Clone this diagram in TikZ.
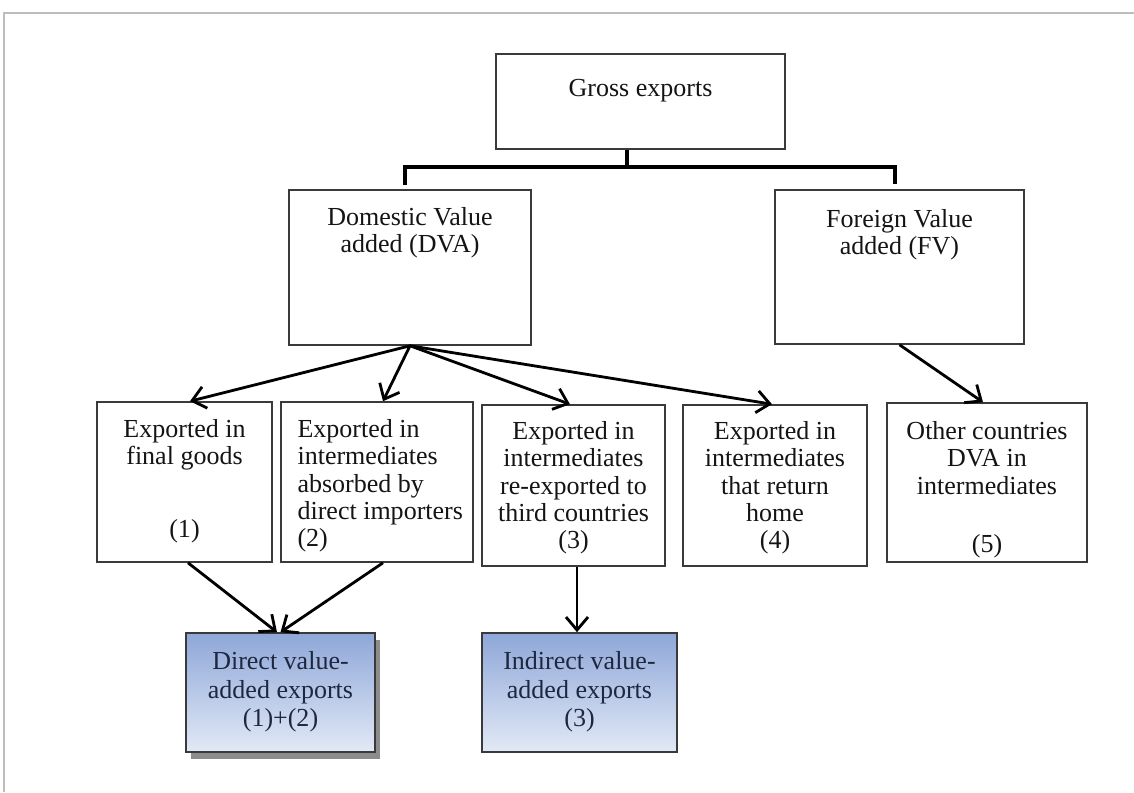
\documentclass[tikz,border=0pt]{standalone}
\usepackage{fontspec}
\setmainfont{Liberation Serif}
\usetikzlibrary{
  arrows.meta,
  positioning,  % below=... of
  shadows,      % drop shadow
}
\definecolor{boxline}{HTML}{3A3A3A}
\definecolor{frameline}{HTML}{BDBDBD}
\definecolor{navy}{HTML}{1F2740}
\definecolor{bluetop}{RGB}{142,167,216}
\definecolor{bluebot}{RGB}{226,233,246}
\tikzset{
  semithick,
  box/.style={
    draw=boxline,
    line width=0.9pt,
    inner sep=0pt
  },
  txt/.style={
    inner sep=0pt,
    align=center,
    text=black!92
  },
  blue box/.style={
    box,
    top color=bluetop,
    bottom color=bluebot
  },
  blue txt/.style={
    txt,
    text=navy,
    font=\fontsize{14.8}{16.2}\selectfont
  },
  bus/.style={
    line width=2.4pt
  },
  arr/.style={
    -{Straight Barb[length=2.6mm,width=4.4mm]},
    line width=1.6pt
  }
}

\begin{document}
\begin{tikzpicture}[font=\fontsize{14.8}{15.5}\selectfont]
\useasboundingbox (0,0) rectangle (22.68,-15.84);
% frame
\draw[frameline, line width=1.1pt] (0.08,-15.84) -- (0.08,-0.26) -- (22.68,-0.26);

% boxes
\node[box, minimum width=5.78cm, minimum height=1.9cm]  (gross) at (12.81,-2.03) {};
\node[box, minimum width=4.84cm, minimum height=3.1cm]  (dva)   at (8.2,-5.35)   {};
\node[box, minimum width=4.98cm, minimum height=3.08cm] (fv)    at (17.99,-5.34) {};
\node[box, minimum width=3.5cm,  minimum height=3.2cm]  (ex1)   at (3.69,-9.64)  {};
\node[box, minimum width=3.84cm, minimum height=3.2cm]  (ex2)   at (7.54,-9.64)  {};
\node[box, minimum width=3.66cm, minimum height=3.22cm] (ex3)   at (11.47,-9.71) {};
\node[box, minimum width=3.68cm, minimum height=3.22cm] (ex4)   at (15.5,-9.71)  {};
\node[box, minimum width=4.0cm,  minimum height=3.18cm] (ex5)   at (19.74,-9.65) {};
\node[blue box, minimum width=3.78cm, minimum height=2.38cm,
      drop shadow={shadow xshift=0.1cm, shadow yshift=-0.13cm, fill=black!45, opacity=1}]
      (direct) at (5.61,-13.85) {};
\node[blue box, minimum width=3.9cm, minimum height=2.38cm] (indirect) at (11.59,-13.85) {};

% texts
\node[txt, below=0.52cm of gross.north] (gross-t) {Gross exports};
\node[txt, below=0.36cm of dva.north]   (dva-t)   {Domestic Value\\added (DVA)};
\node[txt, below=0.4cm of fv.north]     (fv-t)    {Foreign Value\\added (FV)};
\node[txt, below=0.36cm of ex1.north]   (ex1-t)   {Exported in\\final goods\\[0.91cm](1)};
\node[txt, align=left, anchor=north west] (ex2-t)
  at ([xshift=0.34cm,yshift=-0.36cm]ex2.north west)
  {Exported in\\intermediates\\absorbed by\\direct importers\\(2)};
\node[txt, below=0.34cm of ex3.north]   (ex3-t)   {Exported in\\intermediates\\re-exported to\\third countries\\(3)};
\node[txt, below=0.34cm of ex4.north]   (ex4-t)   {Exported in\\intermediates\\that return\\home\\(4)};
\node[txt, below=0.38cm of ex5.north]   (ex5-t)   {Other countries\\DVA in\\intermediates\\[0.63cm](5)};
\node[blue txt, below=0.38cm of direct.north]   (direct-t)   {Direct value-\\added exports\\(1)+(2)};
\node[blue txt, below=0.38cm of indirect.north] (indirect-t) {Indirect value-\\added exports\\(3)};

% tree
\draw[bus] ([xshift=-0.27cm]gross.south) -- ++(0,-0.34);
\draw[bus] ([xshift=-0.1cm,yshift=0.08cm]dva.north) |- ([yshift=-0.34cm]gross.south)
  -| ([xshift=-0.09cm,yshift=0.1cm]fv.north);

% arrows
\draw[arr] (dva.south) -- ([xshift=0.11cm]ex1.north);
\draw[arr] (dva.south) -- ([xshift=0.12cm]ex2.north);
\draw[arr] (dva.south) -- ([xshift=-0.07cm]ex3.north);
\draw[arr] (dva.south) -- ([xshift=-0.06cm]ex4.north);
\draw[arr] (fv.south) -- ([xshift=-0.08cm]ex5.north);
\draw[arr] ([xshift=0.07cm]ex1.south) -- ([xshift=-0.07cm]direct.north);
\draw[arr] ([xshift=0.12cm]ex2.south) -- (direct.north);
\draw[arr] ([xshift=0.07cm]ex3.south) -- ([xshift=0.07cm]ex3.south |- indirect.north);
\end{tikzpicture}
\end{document}
